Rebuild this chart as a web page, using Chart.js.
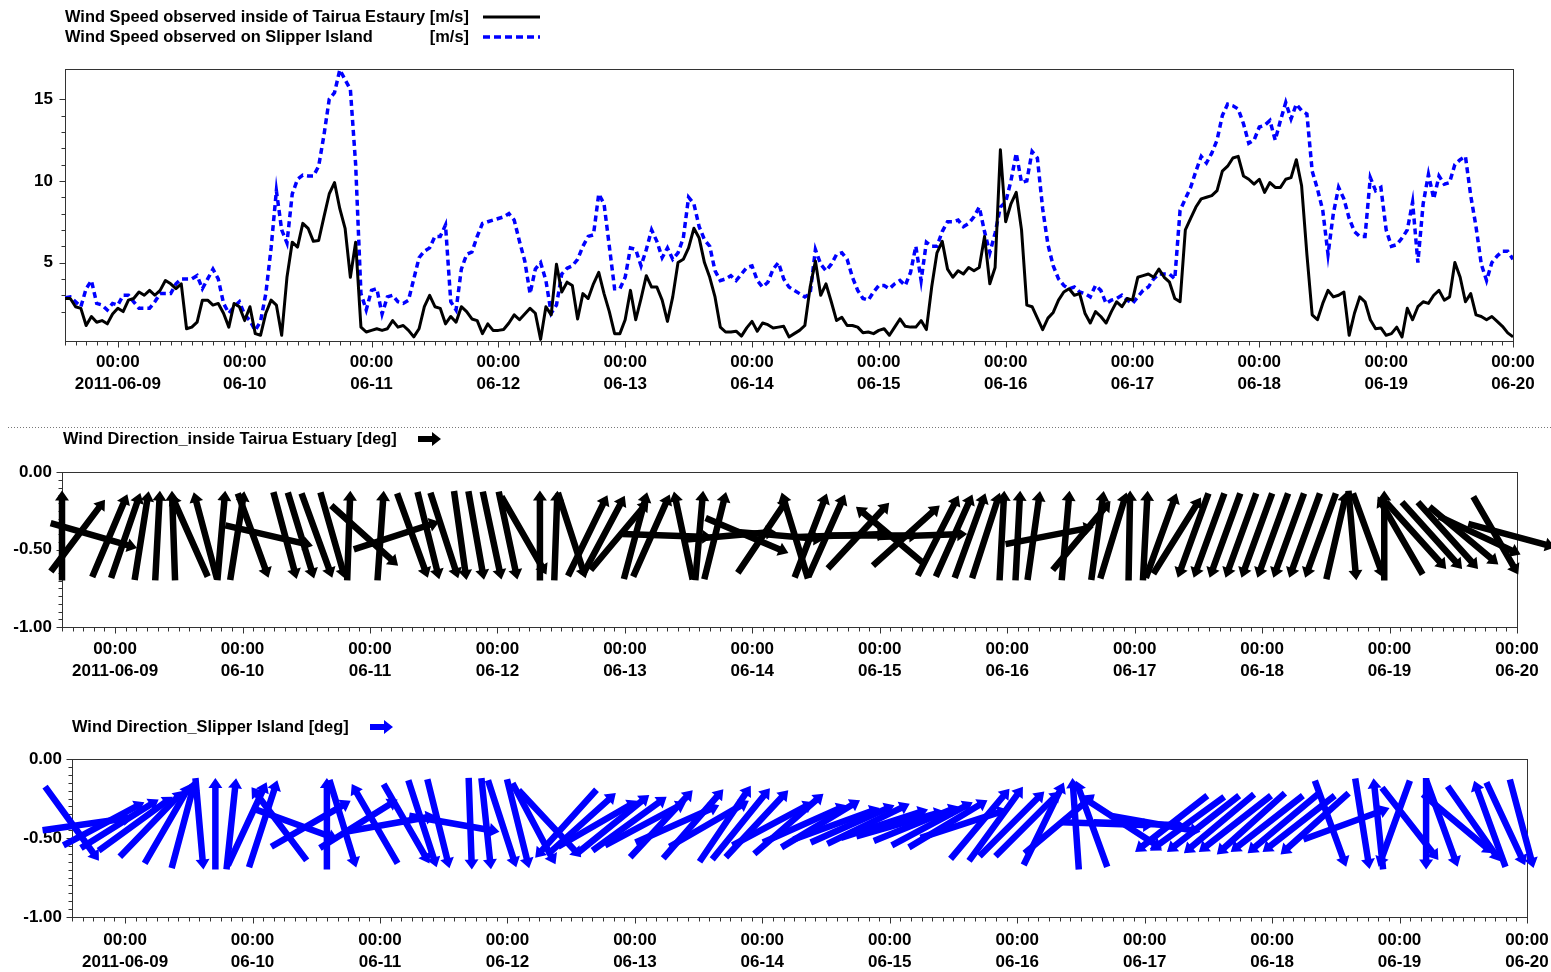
<!DOCTYPE html>
<html>
<head>
<meta charset="utf-8">
<title>Tairua wind observations</title>
<script src="https://cdn.jsdelivr.net/npm/chart.js@4.4.1/dist/chart.umd.min.js"></script>
<style>
  html, body { margin: 0; padding: 0; background: #fff; }
  body { width: 1551px; height: 972px; position: relative; overflow: hidden; }
  canvas { position: absolute; left: 0; }
  #sep { position: absolute; left: 8px; top: 427px; width: 1543px; height: 1px;
         background: repeating-linear-gradient(to right, #777 0 1px, transparent 1px 3px); }
</style>
</head>
<body>
<canvas id="speed" width="1551" height="400" style="top:0px"></canvas>
<div id="sep"></div>
<canvas id="dirTairua" width="1551" height="270" style="top:420px"></canvas>
<canvas id="dirSlipper" width="1551" height="262" style="top:710px"></canvas>
<script>
// ---- time axis -------------------------------------------------------------
// hours are counted from 2011-06-09 00:00; the record starts 2011-06-08 14:00
const dayLabels = ['2011-06-09', '06-10', '06-11', '06-12', '06-13', '06-14',
                   '06-15', '06-16', '06-17', '06-18', '06-19', '06-20'];
const axisStartHour = -10;
const axisEndHour = 264;

// ---- wind speed, hourly, m/s -----------------------------------------------
const speedStartHour = -10;
const tairuaSpeed = [
  2.8, 2.8, 2.3, 2.2, 1.15, 1.7, 1.35, 1.45, 1.25, 1.85,
  2.2, 2.0, 2.7, 2.8, 3.2, 3.0, 3.3, 3.0, 3.3, 3.9,
  3.7, 3.4, 3.7, 0.95, 1.05, 1.35, 2.7, 2.7, 2.4, 2.5,
  1.9, 1.05, 2.5, 2.3, 1.45, 2.3, 0.65, 0.55, 1.9, 2.7,
  2.4, 0.55, 4.1, 6.25, 5.95, 7.4, 7.1, 6.3, 6.35, 7.8,
  9.2, 9.9, 8.3, 7.1, 4.1, 6.25, 1.05, 0.75, 0.85, 0.95,
  0.85, 0.95, 1.45, 1.05, 1.15, 0.85, 0.45, 0.95, 2.3, 3.0,
  2.3, 2.2, 1.25, 1.7, 1.35, 2.3, 2.0, 1.55, 1.45, 0.65,
  1.25, 0.85, 0.85, 0.9, 1.3, 1.8, 1.5, 1.85, 2.2, 1.9,
  0.3, 2.3, 1.8, 4.9, 3.2, 3.8, 3.6, 1.55, 3.1, 2.8,
  3.7, 4.4, 3.1, 2.0, 0.65, 0.65, 1.5, 3.3, 1.5, 2.8,
  4.2, 3.5, 3.5, 2.7, 1.4, 2.9, 5.0, 5.2, 5.9, 7.1,
  6.5, 5.0, 4.1, 2.9, 1.05, 0.75, 0.75, 0.8, 0.5, 1.0,
  1.4, 0.8, 1.3, 1.2, 1.0, 1.05, 1.1, 0.45, 0.65, 0.85,
  1.15, 3.5, 5.1, 3.0, 3.7, 2.6, 1.45, 1.65, 1.15, 1.15,
  1.05, 0.7, 0.75, 0.65, 0.85, 0.95, 0.55, 1.05, 1.55, 1.1,
  1.05, 1.05, 1.45, 0.9, 3.5, 5.6, 6.3, 4.6, 4.1, 4.5,
  4.3, 4.7, 4.5, 4.7, 6.6, 3.7, 4.7, 11.9, 7.5, 8.6,
  9.3, 7.0, 2.4, 2.3, 1.6, 0.9, 1.6, 1.95, 2.7, 3.2,
  3.4, 3.0, 3.1, 1.9, 1.3, 2.0, 1.7, 1.3, 2.0, 2.6,
  2.3, 2.8, 2.7, 4.1, 4.2, 4.3, 4.1, 4.6, 4.1, 3.8,
  2.8, 2.6, 7.0, 7.7, 8.4, 8.9, 9.0, 9.1, 9.4, 10.6,
  10.9, 11.4, 11.5, 10.3, 10.1, 9.8, 10.1, 9.3, 9.9, 9.6,
  9.6, 10.1, 10.2, 11.3, 9.7, 5.5, 1.8, 1.5, 2.5, 3.3,
  2.9, 3.0, 3.2, 0.55, 1.9, 2.9, 2.6, 1.5, 0.95, 1.0,
  0.55, 0.65, 1.05, 0.45, 2.2, 1.5, 2.3, 2.6, 2.5, 3.0,
  3.3, 2.7, 2.9, 5.0, 4.1, 2.6, 3.1, 1.8, 1.7, 1.5,
  1.7, 1.4, 1.1, 0.7, 0.45
];
const slipperSpeed = [
  2.85, 2.9, 2.6, 2.3, 3.4, 3.9, 2.5, 2.4, 2.1, 2.5,
  2.4, 3.0, 3.0, 2.6, 2.2, 2.2, 2.2, 2.6, 3.1, 3.1,
  3.1, 3.7, 4.0, 4.0, 4.0, 4.2, 3.4, 4.0, 4.6, 4.0,
  2.5, 1.9, 2.3, 2.6, 1.8, 1.45, 0.85, 1.4, 3.1, 5.9,
  9.4, 7.0, 6.2, 9.2, 10.1, 10.35, 10.3, 10.3, 10.9, 12.8,
  15.0, 15.4, 16.8, 16.2, 15.6, 11.0, 3.1, 2.1, 3.3, 3.4,
  1.85, 2.9, 3.0, 2.6, 2.5, 2.7, 4.0, 5.3, 5.7, 5.9,
  6.6, 6.6, 7.3, 2.6, 2.1, 4.6, 5.5, 5.65, 6.6, 7.4,
  7.5, 7.6, 7.7, 7.8, 8.0, 7.6, 6.3, 5.1, 3.1, 4.6,
  5.0, 3.9, 1.9, 2.4, 4.3, 4.65, 4.8, 5.2, 6.0, 6.6,
  6.7, 9.2, 8.6, 6.0, 3.4, 3.4, 4.1, 5.9, 5.8, 4.8,
  5.8, 7.0, 6.3, 5.3, 5.9, 5.2, 5.6, 6.5, 9.0, 8.6,
  7.2, 6.4, 6.0, 4.5, 3.9, 4.0, 4.2, 3.9, 4.3, 4.7,
  4.8, 3.9, 3.5, 3.8, 4.6, 5.0, 4.0, 3.5, 3.3, 3.1,
  2.9, 3.1, 5.8, 4.9, 4.5, 4.9, 5.5, 5.6, 5.2, 4.1,
  3.3, 2.8, 2.7, 3.2, 3.6, 3.6, 3.4, 3.7, 3.9, 3.6,
  4.4, 6.0, 3.9, 6.25, 6.0, 6.0, 6.9, 7.5, 7.5, 7.6,
  7.2, 7.4, 7.8, 8.4, 6.9, 5.6, 6.8, 8.4, 8.7, 10.0,
  11.7, 9.9, 10.0, 11.8, 11.4, 8.3, 6.1, 4.8, 4.0, 3.6,
  3.4, 3.5, 3.2, 3.1, 2.9, 3.6, 3.3, 2.5, 2.7, 2.8,
  3.0, 2.7, 2.5, 2.9, 3.3, 3.5, 4.0, 4.3, 4.3, 4.3,
  4.0, 8.2, 8.9, 9.6, 10.6, 11.5, 11.1, 11.7, 12.5, 14.0,
  14.7, 14.6, 14.4, 13.5, 12.3, 12.5, 13.3, 13.4, 13.7, 12.5,
  13.7, 14.8, 13.8, 14.7, 14.3, 14.1, 10.6, 9.5, 8.2, 5.5,
  8.0, 9.6, 8.9, 7.7, 6.9, 6.6, 6.6, 10.2, 9.4, 9.6,
  7.0, 6.0, 6.1, 6.5, 7.0, 8.7, 5.0, 8.6, 10.4, 8.9,
  10.3, 9.8, 9.9, 11.0, 11.3, 11.5, 9.1, 7.2, 4.9, 3.9,
  5.0, 5.4, 5.7, 5.7, 5.2
];
const speedTickLabels = [5, 10, 15];

// ---- wind direction, 3-hourly, heading the arrow points to (deg from north) --
const dirStartHour = -10;
const dirStepHours = 3;
const tairuaDir = [
  0, 37, 106, 23, 19, 9, 3, 358, 336, 345,
  5, 9, 160, 103, 165, 163, 160, 164, 2, 132,
  4, 72, 160, 166, 162, 172, 170, 168, 168, 150,
  0, 2, 162, 26, 28, 40, 15, 24, 92, 348,
  5, 14, 85, 113, 34, 95, 343, 21, 24, 88,
  43, 90, 310, 48, 88, 27, 24, 20, 18, 3,
  3, 8, 79, 5, 40, 8, 17, 1, 3, 20,
  32, 200, 200, 200, 200, 200, 200, 200, 200, 200,
  13, 175, 160, 0, 330, 138, 138, 138, 130, 115,
  150, 105
];
const slipperDir = [
  144, 82, 62, 58, 54, 44, 30, 15, 175, 0,
  6, 25, 18, 323, 110, 60, 0, 163, 58, 330,
  80, 150, 162, 166, 100, 178, 174, 162, 166, 152,
  137, 222, 48, 60, 51, 54, 62, 43, 66, 41,
  60, 34, 39, 43, 62, 49, 66, 59, 70, 66,
  64, 72, 74, 68, 62, 59, 72, 40, 36, 45,
  45, 26, 50, 356, 340, 92, 123, 92, 100, 232,
  234, 232, 230, 232, 228, 232, 230, 232, 228, 160,
  70, 171, 354, 200, 142, 180, 160, 130, 145, 340,
  155, 165
];
const dirTickLabels = [0, -0.5, -1];

// ---- drawing constants -------------------------------------------------------
const FONT = '"Liberation Sans", Arial, sans-serif';
const BLUE = '#0000ff';
const ARROW_BASE = -0.41;     // level the arrows are centred on
const ARROW_LEN = 0.58;       // arrow length, in units of the direction axis

function hourPoints(startHour, stepHours, values) {
  return values.map((v, i) => ({ x: startHour + i * stepHours, y: v }));
}

function timeAxis(axisHeight, padding) {
  return {
    type: 'linear', min: axisStartHour, max: axisEndHour,
    grid: { display: false, drawTicks: false },
    border: { display: false },
    ticks: {
      stepSize: 2, autoSkip: false, maxRotation: 0, minRotation: 0, padding: padding,
      color: '#000',
      font: { family: FONT, size: 17, weight: 'bold', lineHeight: 1.3 },
      callback: v => (v % 24 === 0) ? ['00:00', dayLabels[v / 24]] : ''
    },
    // fixed axis band; the end labels may overhang the plot edges
    afterFit: s => { s.height = axisHeight; s.paddingLeft = 0; s.paddingRight = 0; }
  };
}

// frame round the plot area plus the small outward tick marks
function framePlugin(isMajorY, isTickY) {
  return {
    id: 'frame',
    beforeDatasetsDraw(chart) {
      const { ctx, chartArea: a, scales: { x, y } } = chart;
      ctx.save();
      ctx.strokeStyle = '#333';
      ctx.lineWidth = 1;
      const L = Math.round(a.left) + 0.5, T = Math.round(a.top) + 0.5;
      const R = Math.round(a.right) + 0.5, B = Math.round(a.bottom) + 0.5;
      ctx.strokeRect(L, T, R - L, B - T);
      ctx.beginPath();
      x.ticks.forEach(t => {
        const px = Math.round(x.getPixelForValue(t.value)) + 0.5;
        const len = (t.value % 24 === 0) ? 6 : 4;
        ctx.moveTo(px, B); ctx.lineTo(px, B + len);
      });
      y.ticks.forEach(t => {
        if (!isTickY(t.value)) return;
        const py = Math.round(y.getPixelForValue(t.value)) + 0.5;
        const len = isMajorY(t.value) ? 6 : 4;
        ctx.moveTo(L - len, py); ctx.lineTo(L, py);
      });
      ctx.stroke();
      ctx.restore();
    }
  };
}

function drawArrow(ctx, x0, y0, x1, y1, w, hl, hw) {
  const ang = Math.atan2(y1 - y0, x1 - x0);
  const len = Math.hypot(x1 - x0, y1 - y0);
  ctx.save();
  ctx.translate(x0, y0);
  ctx.rotate(ang);
  ctx.beginPath();
  ctx.moveTo(0, -w / 2);
  ctx.lineTo(len - hl, -w / 2);
  ctx.lineTo(len - hl, -hw);
  ctx.lineTo(len, 0);
  ctx.lineTo(len - hl, hw);
  ctx.lineTo(len - hl, w / 2);
  ctx.lineTo(0, w / 2);
  ctx.closePath();
  ctx.fill();
  ctx.restore();
}

// one arrow per observation, centred on the point the scales give for it
function arrowPlugin(headings, color) {
  return {
    id: 'windArrows',
    afterDatasetsDraw(chart) {
      const { ctx, scales: { y } } = chart;
      const L = Math.abs(y.getPixelForValue(0) - y.getPixelForValue(-ARROW_LEN));
      const meta = chart.getDatasetMeta(0);
      ctx.save();
      ctx.fillStyle = color;
      meta.data.forEach((pt, i) => {
        const th = headings[i] * Math.PI / 180;
        const dx = Math.sin(th) * L / 2, dy = -Math.cos(th) * L / 2;
        drawArrow(ctx, pt.x - dx, pt.y - dy, pt.x + dx, pt.y + dy, 6.5, 10, 7);
      });
      ctx.restore();
    }
  };
}

function titlePlugin(text, tx, ty, iconX, color) {
  return {
    id: 'panelTitle',
    afterDraw(chart) {
      const ctx = chart.ctx;
      ctx.save();
      ctx.font = 'bold 16.4px ' + FONT;
      ctx.fillStyle = '#000';
      ctx.textBaseline = 'middle';
      ctx.textAlign = 'left';
      ctx.fillText(text, tx, ty);
      ctx.fillStyle = color;
      drawArrow(ctx, iconX, ty, iconX + 23, ty, 6, 9, 7);
      ctx.restore();
    }
  };
}

const speedLegend = {
  id: 'speedLegend',
  afterDraw(chart) {
    const ctx = chart.ctx;
    ctx.save();
    ctx.font = 'bold 16.4px ' + FONT;
    ctx.fillStyle = '#000';
    ctx.textBaseline = 'middle';
    ctx.textAlign = 'left';
    ctx.fillText('Wind Speed observed inside of Tairua Estaury [m/s]', 65, 17);
    ctx.fillText('Wind Speed observed on Slipper Island', 65, 37);
    ctx.textAlign = 'right';
    ctx.fillText('[m/s]', 469, 37);
    ctx.lineWidth = 3;
    ctx.strokeStyle = '#000';
    ctx.beginPath(); ctx.moveTo(483, 17); ctx.lineTo(540, 17); ctx.stroke();
    ctx.strokeStyle = BLUE;
    ctx.lineWidth = 3.5;
    ctx.setLineDash([7, 4]);
    ctx.beginPath(); ctx.moveTo(483, 37); ctx.lineTo(540, 37); ctx.stroke();
    ctx.restore();
  }
};

const baseOptions = {
  responsive: false,
  animation: false,
  events: [],
  plugins: { legend: { display: false }, tooltip: { enabled: false } }
};

// ---- wind speed panel --------------------------------------------------------
new Chart(document.getElementById('speed'), {
  type: 'line',
  data: {
    datasets: [
      { data: hourPoints(speedStartHour, 1, tairuaSpeed), borderColor: '#000',
        borderWidth: 3, pointRadius: 0, tension: 0, borderJoinStyle: 'round' },
      { data: hourPoints(speedStartHour, 1, slipperSpeed), borderColor: BLUE,
        borderWidth: 3.5, borderDash: [6, 4], pointRadius: 0, tension: 0 }
    ]
  },
  options: Object.assign({}, baseOptions, {
    layout: { padding: { top: 69, right: 38, left: 0, bottom: 0 } },
    scales: {
      x: timeAxis(59, 10),
      y: {
        min: 0.2, max: 16.85,
        grid: { display: false, drawTicks: false },
        border: { display: false },
        ticks: {
          stepSize: 1, padding: 12, color: '#000', autoSkip: false,
          font: { family: FONT, size: 17, weight: 'bold' },
          callback: v => speedTickLabels.includes(v) ? String(v) : ''
        },
        afterFit: s => { s.width = 65; }
      }
    }
  }),
  plugins: [framePlugin(v => speedTickLabels.includes(v), v => Number.isInteger(v)), speedLegend]
});

// ---- direction panels ----------------------------------------------------------
function directionChart(id, headings, color, geom, title) {
  const isMajor = v => dirTickLabels.some(t => Math.abs(t - v) < 1e-6);
  new Chart(document.getElementById(id), {
    type: 'scatter',
    data: {
      datasets: [{
        data: headings.map((h, i) => ({ x: dirStartHour + i * dirStepHours, y: ARROW_BASE })),
        pointRadius: 0, showLine: false
      }]
    },
    options: Object.assign({}, baseOptions, {
      layout: { padding: { top: geom.top, right: geom.right, left: 0, bottom: 0 } },
      scales: {
        x: timeAxis(geom.axisH, geom.labelPad),
        y: {
          min: -1, max: 0,
          grid: { display: false, drawTicks: false },
          border: { display: false },
          ticks: {
            stepSize: 0.05, padding: 10, color: '#000', autoSkip: false,
            font: { family: FONT, size: 17, weight: 'bold' },
            callback: v => isMajor(v) ? v.toFixed(2) : ''
          },
          afterFit: s => { s.width = geom.left; }
        }
      }
    }),
    plugins: [framePlugin(isMajor, v => v <= 1e-9 && v >= -1 - 1e-9),
              arrowPlugin(headings, color),
              titlePlugin(title.text, title.x, title.y, title.iconX, color)]
  });
}

directionChart('dirTairua', tairuaDir, '#000',
  { top: 52, right: 34, left: 62, axisH: 63, labelPad: 11 },
  { text: 'Wind Direction_inside Tairua Estuary [deg]', x: 63, y: 19, iconX: 418 });

directionChart('dirSlipper', slipperDir, BLUE,
  { top: 49, right: 24, left: 72, axisH: 55, labelPad: 12 },
  { text: 'Wind Direction_Slipper Island [deg]', x: 72, y: 17, iconX: 370 });
</script>
</body>
</html>
